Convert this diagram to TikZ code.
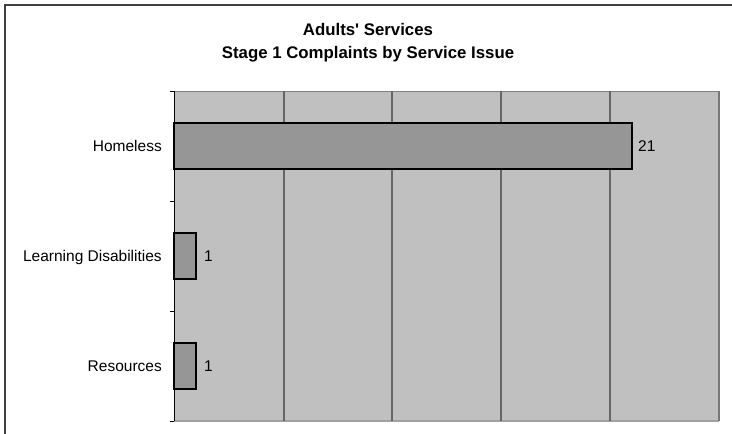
\documentclass[tikz,border=0pt]{standalone}
\usepackage{fontspec}
\setmainfont{Liberation Sans}[Ligatures=TeXOff]
\definecolor{plotbg}{HTML}{C0C0C0}
\definecolor{barfill}{HTML}{969696}
\definecolor{gridc}{HTML}{666666}
\definecolor{framec}{HTML}{404040}
\begin{document}
\begin{tikzpicture}[x=1pt,y=-1pt,
  cat/.style={anchor=base east,font=\fontsize{15.5}{15.5}\selectfont,inner sep=0pt},
  val/.style={anchor=base west,font=\fontsize{15.5}{15.5}\selectfont,inner sep=0pt},
  ttl/.style={anchor=base,font=\bfseries\fontsize{16.8}{16.8}\selectfont,inner sep=0pt},
  bar/.style={draw=black,fill=barfill,line width=1.1pt},
  grid/.style={draw=gridc,line width=1.3pt},
  tick/.style={draw=black,line width=1pt}]
\useasboundingbox (0,0) rectangle (732,434);
\fill[white] (0,0) rectangle (732,434);
% outer frame
\draw[framec,line width=1.2pt] (5,434) -- (5,5) -- (732,5);
% title
\node[ttl] (t1) at (368,35) {Adults' Services};
\node[ttl] (t2) at (368,58) {Stage 1 Complaints by Service Issue};
% plot area
\fill[plotbg] (174,91) rectangle (719,421);
\draw[gray,line width=1pt] (174,91) -- (719,91);
\draw[color={rgb,255:red,160;green,160;blue,160},line width=1.5pt] (174,421) -- (719,421);
\foreach \x in {284,392,501,610}{\draw[grid] (\x,91) -- (\x,421);}
\draw[draw={rgb,255:red,120;green,120;blue,120},line width=1.8pt] (719,91) -- (719,421);
% axis
\draw[tick] (174,91) -- (174,421);
\foreach \y in {91,201,311,421}{\draw[tick] (170,\y) -- (174,\y);}
% bars
\draw[bar] (174,123) rectangle (632,169);
\draw[bar] (174,233) rectangle (196,279);
\draw[bar] (174,343) rectangle (196,389);
\node[val] (v1) at (638,151) {21};
\node[val] (v2) at (204,261) {1};
\node[val] (v3) at (204,371) {1};
% category labels
\node[cat] (c1) at (162,151) {Homeless};
\node[cat] (c2) at (162,261) {Learning Disabilities};
\node[cat] (c3) at (162,371) {Resources};
\end{tikzpicture}
\end{document}
